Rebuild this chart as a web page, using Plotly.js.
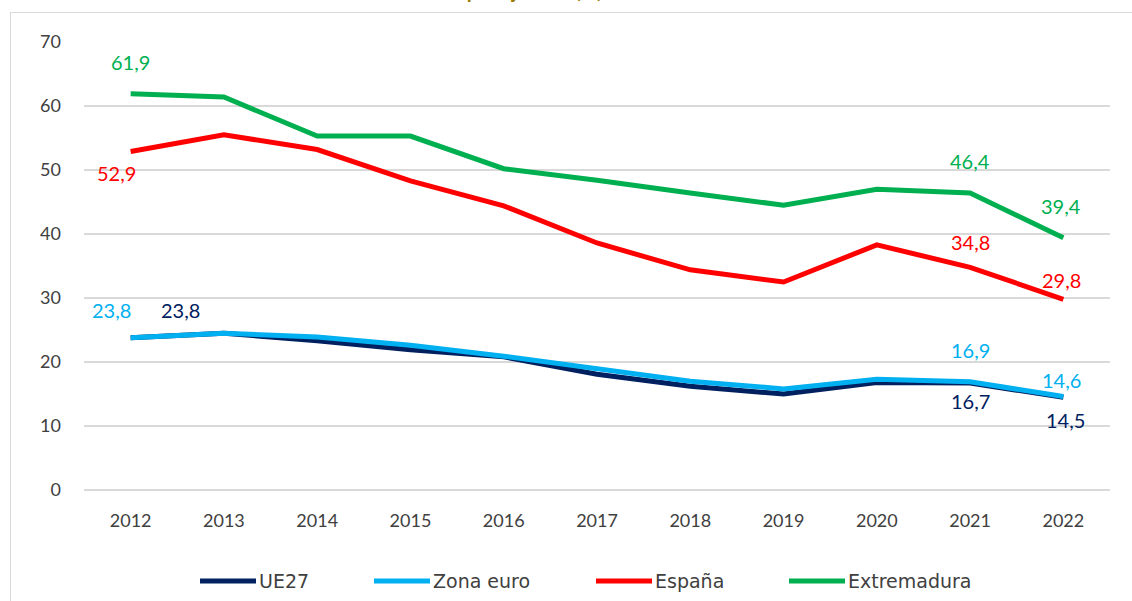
<!DOCTYPE html>
<html>
<head>
<meta charset="utf-8">
<script src="https://cdn.plot.ly/plotly-3.0.1.min.js"></script>
<style>
  html, body { margin: 0; padding: 0; background: #ffffff; }
  #frame { position: absolute; left: 10px; top: 12px; width: 1140px; height: 610px; border: 1.5px solid #d9d9d9; box-sizing: border-box; pointer-events: none; }
  #chart { position: absolute; left: 0; top: 0; width: 1132px; height: 601px; }
</style>
</head>
<body>
<div id="chart"></div>
<div id="frame"></div>
<script>
const years = ['2012','2013','2014','2015','2016','2017','2018','2019','2020','2021','2022'];
const ue27 =       [23.8, 24.5, 23.3, 21.9, 20.8, 18.1, 16.2, 15.0, 16.8, 16.7, 14.5];
const zonaEuro =   [23.8, 24.5, 23.9, 22.6, 20.9, 18.9, 17.0, 15.8, 17.3, 16.9, 14.6];
const espana =     [52.9, 55.5, 53.2, 48.3, 44.4, 38.6, 34.4, 32.5, 38.3, 34.8, 29.8];
const extremadura =[61.9, 61.4, 55.3, 55.3, 50.2, 48.4, 46.4, 44.5, 47.0, 46.4, 39.4];
const seriesNames = ['UE27', 'Zona euro', 'España', 'Extremadura'];
const titleText = 'Tasa de paro juvenil (%)';
const yTicks = [0, 10, 20, 30, 40, 50, 60, 70];

const colors = { ue: '#002060', ze: '#00B0F0', es: '#FF0000', ex: '#00B050' };
const seriesColors = [colors.ue, colors.ze, colors.es, colors.ex];
const fam = 'Lato, "Open Sans", sans-serif';
const legendFont = { family: '"DejaVu Sans", sans-serif', size: 19, color: '#404040' };

// plot area in pixels (from margins)
const W = 1132, H = 601, ML = 84, MR = 22, MT = 42, MB = 111;
const PW = W - ML - MR, PH = H - MT - MB;
const px2x = p => (p - ML) / PW;
const px2y = p => (H - MB - p) / PH;

function line(y, name, color) {
  return { type: 'scatter', mode: 'lines', x: years, y: y, name: name, showlegend: false,
    line: { color: color, width: 5, shape: 'linear' }, hoverinfo: 'skip' };
}
const data = [
  line(ue27, seriesNames[0], colors.ue),
  line(zonaEuro, seriesNames[1], colors.ze),
  line(espana, seriesNames[2], colors.es),
  line(extremadura, seriesNames[3], colors.ex)
];

function fmt(v) { return v.toFixed(1).replace('.', ','); }
// annotation x on a category axis uses the category's index
function lab(arr, i, color, xs, ys) {
  return { x: i, y: arr[i], xref: 'x', yref: 'y', text: fmt(arr[i]), showarrow: false,
    xshift: xs, yshift: ys, font: { family: fam, size: 20, color: color } };
}
const last = years.length - 1;
const annotations = [
  lab(extremadura, 0, colors.ex, 0, 32),
  lab(espana, 0, colors.es, -14, -22),
  lab(zonaEuro, 0, colors.ze, -19, 28),
  lab(ue27, 0, colors.ue, 50, 28),
  lab(extremadura, last - 1, colors.ex, 0, 32),
  lab(espana, last - 1, colors.es, 0, 25),
  lab(extremadura, last, colors.ex, -2, 32),
  lab(espana, last, colors.es, -2, 19),
  lab(zonaEuro, last - 1, colors.ze, 0, 32),
  lab(ue27, last - 1, colors.ue, 0, -18),
  lab(zonaEuro, last, colors.ze, -2, 17),
  lab(ue27, last, colors.ue, 2, -23),
  { xref: 'paper', yref: 'paper', x: 0.405, y: 1, yanchor: 'bottom', yshift: 38, showarrow: false,
    text: '<b>' + titleText + '</b>', font: { family: fam, size: 20, color: '#9C7B00' } }
];

// legend drawn by hand: sample line + name, positions in pixels
const legendSampleStart = [200, 374, 596, 789];
const legendY = 581;
const shapes = [];
seriesNames.forEach((name, k) => {
  const x0 = legendSampleStart[k];
  shapes.push({ type: 'line', xref: 'paper', yref: 'paper', layer: 'above',
    x0: px2x(x0), x1: px2x(x0 + 56), y0: px2y(legendY), y1: px2y(legendY),
    line: { color: seriesColors[k], width: 5 } });
  annotations.push({ xref: 'paper', yref: 'paper', x: px2x(x0 + 57), y: px2y(legendY),
    xanchor: 'left', yanchor: 'middle', showarrow: false, text: name, font: legendFont });
});

const layout = {
  width: W, height: H,
  margin: { l: ML, r: MR, t: MT, b: MB },
  paper_bgcolor: 'rgba(0,0,0,0)', plot_bgcolor: '#ffffff',
  showlegend: false,
  xaxis: { type: 'category', categoryorder: 'array', categoryarray: years, range: [-0.5, 10.5],
    showgrid: false, zeroline: false, showline: false, ticks: '',
    ticklabelstandoff: 18,
    tickfont: { family: fam, size: 18, color: '#404040' } },
  yaxis: { range: [0, 70], autorange: false, tickvals: yTicks, showgrid: true, gridcolor: '#d9d9d9', gridwidth: 2,
    zeroline: true, zerolinecolor: '#d9d9d9', zerolinewidth: 2, showline: false, ticks: '', ticklabelstandoff: 22,
    tickfont: { family: fam, size: 18, color: '#404040' } },
  shapes: shapes,
  annotations: annotations
};

Plotly.newPlot('chart', data, layout, { displayModeBar: false, staticPlot: true });
</script>
</body>
</html>
